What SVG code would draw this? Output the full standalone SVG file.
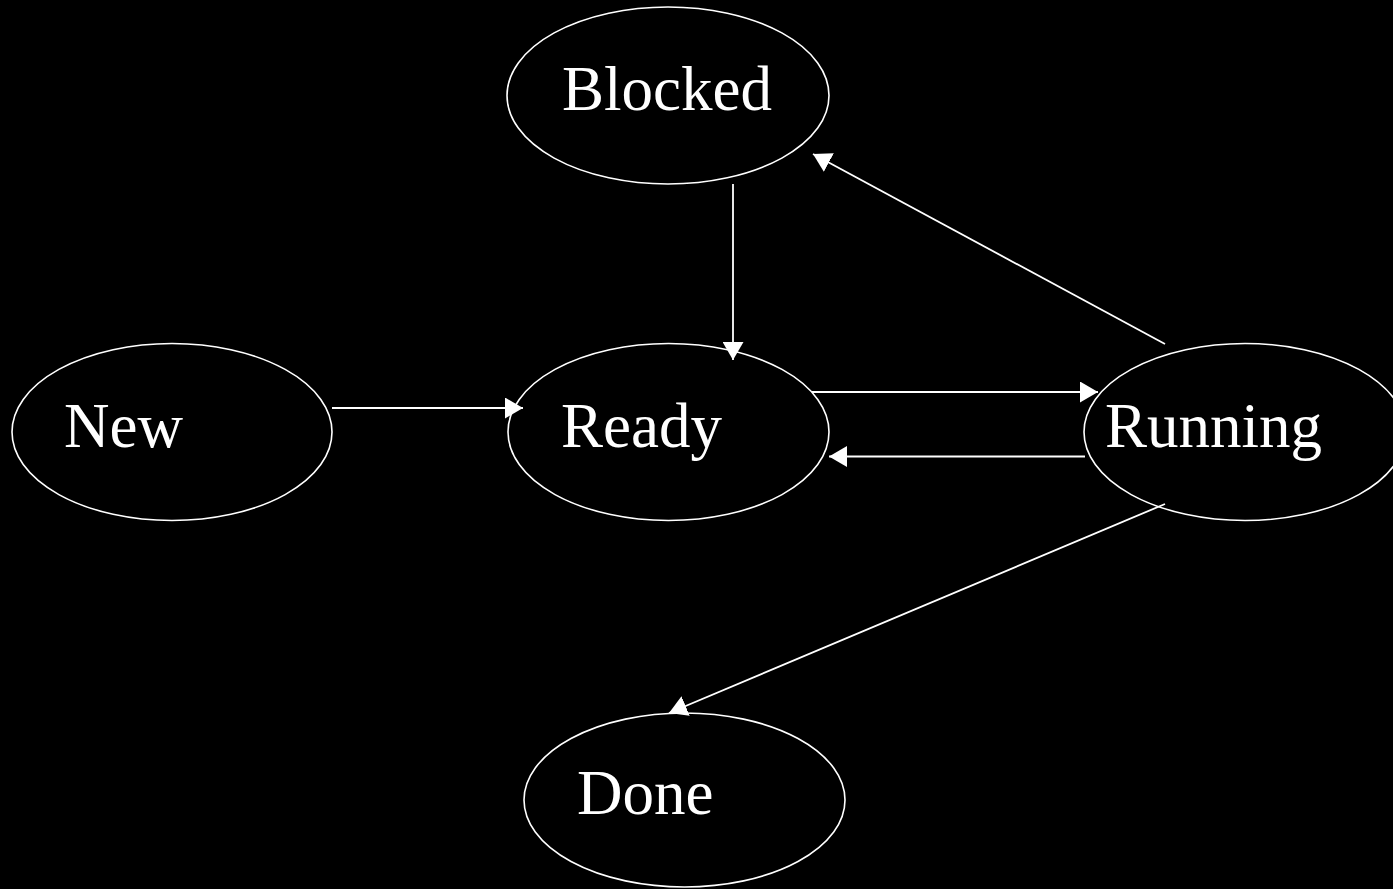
<svg xmlns="http://www.w3.org/2000/svg" width="1393" height="889" viewBox="0 0 1393 889">
<style>
.node ellipse{fill:#000;stroke:#fff;stroke-width:1.6}
.node text{fill:#fff;font-family:"Liberation Serif","Times New Roman",serif;font-size:63px}
.edge{stroke:#fff;stroke-width:1.8;fill:none;marker-end:url(#ah)}
</style>
<defs>
<marker id="ah" markerUnits="userSpaceOnUse" markerWidth="18" markerHeight="21" viewBox="0 0 18 21" refX="18" refY="10.5" orient="auto">
<path d="M0,0 L18,10.5 L0,21 z" fill="#fff"/>
</marker>
</defs>
<rect width="1393" height="889" fill="#000"/>
<g id="blocked" class="node"><ellipse cx="668" cy="95.5" rx="161" ry="88.5"/><text x="562" y="110">Blocked</text></g>
<g id="new" class="node"><ellipse cx="172" cy="432" rx="160" ry="88.5"/><text x="64" y="447">New</text></g>
<g id="ready" class="node"><ellipse cx="668.5" cy="432" rx="160.5" ry="88.5"/><text x="561" y="447">Ready</text></g>
<g id="running" class="node"><ellipse cx="1245" cy="432" rx="161" ry="88.5"/><text x="1105" y="447">Running</text></g>
<g id="done" class="node"><ellipse cx="684.5" cy="800" rx="160.5" ry="87"/><text x="577" y="814">Done</text></g>
<g id="connectors">
<line class="edge" x1="733" y1="184" x2="733" y2="360"/>
<line class="edge" x1="1165" y1="344" x2="813" y2="154"/>
<line class="edge" x1="332" y1="408" x2="523" y2="408"/>
<line class="edge" x1="812" y1="392" x2="1098" y2="392"/>
<line class="edge" x1="1085" y1="456.5" x2="829" y2="456.5"/>
<line class="edge" x1="1165" y1="504" x2="669" y2="713"/>
</g>
</svg>
